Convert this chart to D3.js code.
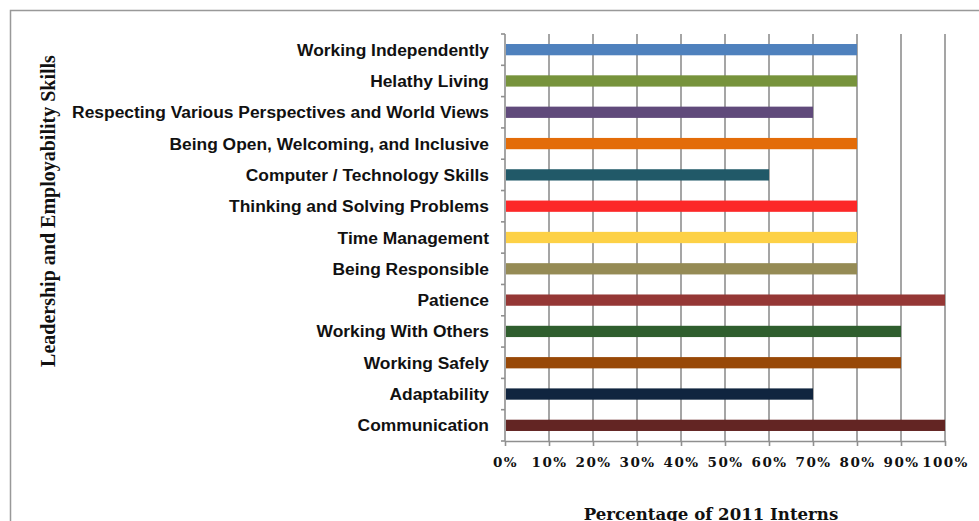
<!DOCTYPE html>
<html>
<head>
<meta charset="utf-8">
<script src="https://cdn.jsdelivr.net/npm/d3@7"></script>
<style>
  html, body { margin: 0; padding: 0; background: #fff; }
  svg { display: block; }
</style>
</head>
<body>
<svg id="chart" width="979" height="521"></svg>
<script>
// Skills, top to bottom
const skills = [
  "Working Independently",
  "Helathy Living",
  "Respecting Various Perspectives and World Views",
  "Being Open, Welcoming, and Inclusive",
  "Computer / Technology Skills",
  "Thinking and Solving Problems",
  "Time Management",
  "Being Responsible",
  "Patience",
  "Working With Others",
  "Working Safely",
  "Adaptability",
  "Communication"
];

// Share of 2011 interns reporting growth in each skill (%)
const percents = [80, 80, 70, 80, 60, 80, 80, 80, 100, 90, 90, 70, 100];

const barColors = [
  "#4f81bd", "#77933c", "#604a7b", "#e36c09", "#215968",
  "#fc2828", "#fdd146", "#958b55", "#953735", "#2f5e2e",
  "#984807", "#10253f", "#632523"
];

const xTicks = [0, 10, 20, 30, 40, 50, 60, 70, 80, 90, 100];

const xTitle = "Percentage of 2011 Interns";
const yTitle = "Leadership and Employability Skills";

const svg = d3.select("#chart");

const plot = { left: 505, right: 945, top: 34, bottom: 441 };

// outer frame (runs past the right and bottom edges)
svg.append("rect")
  .attr("x", 10.5).attr("y", 10.5)
  .attr("width", 1100).attr("height", 600)
  .attr("fill", "none")
  .attr("stroke", "#999").attr("stroke-width", 1.5);

const x = d3.scaleLinear().domain([0, 100]).range([plot.left, plot.right]);
const y = d3.scaleBand().domain(skills).range([plot.top, plot.bottom]).paddingInner(0.64).paddingOuter(0.32);

const band = d3.scaleBand().domain(skills).range([plot.top, plot.bottom]);

// vertical gridlines
svg.append("g")
  .selectAll("line")
  .data(xTicks.filter(d => d > 0))
  .join("line")
  .attr("x1", d => x(d)).attr("x2", d => x(d))
  .attr("y1", plot.top).attr("y2", plot.bottom)
  .attr("stroke", "#8f8f8f").attr("stroke-width", 1.6);

// bars
svg.append("g")
  .selectAll("rect")
  .data(skills)
  .join("rect")
  .attr("x", x(0) + 1)
  .attr("y", d => y(d))
  .attr("width", (d, i) => x(percents[i]) - x(0) - 1)
  .attr("height", y.bandwidth())
  .attr("fill", (d, i) => barColors[i]);

// bottom axis
const xAxis = svg.append("g")
  .attr("transform", `translate(0,${plot.bottom})`)
  .call(d3.axisBottom(x).tickValues(xTicks).tickSize(5).tickSizeOuter(0).tickFormat(d => d + "%"));
xAxis.select(".domain").attr("stroke", "#8f8f8f").attr("stroke-width", 1.6);
xAxis.selectAll(".tick line").attr("stroke", "#8f8f8f").attr("stroke-width", 1.6);
xAxis.selectAll(".tick text")
  .attr("y", 26)
  .attr("dy", 0)
  .attr("fill", "#111")
  .style("font-family", "'DejaVu Serif', serif")
  .style("font-weight", "bold")
  .style("font-size", "13.5px")
  .style("letter-spacing", "1.4px");

// left axis: line plus ticks at band boundaries
const leftAxis = svg.append("g");
leftAxis.append("line")
  .attr("x1", plot.left).attr("x2", plot.left)
  .attr("y1", plot.top).attr("y2", plot.bottom)
  .attr("stroke", "#8f8f8f").attr("stroke-width", 1.6);
leftAxis.selectAll("line.tick")
  .data(skills.concat([null]))
  .join("line")
  .attr("class", "tick")
  .attr("x1", plot.left - 4).attr("x2", plot.left)
  .attr("y1", (d, i) => plot.top + i * band.step())
  .attr("y2", (d, i) => plot.top + i * band.step())
  .attr("stroke", "#8f8f8f").attr("stroke-width", 1.6);

// category labels
svg.append("g")
  .selectAll("text")
  .data(skills)
  .join("text")
  .attr("x", 489)
  .attr("y", d => band(d) + band.bandwidth() / 2 + 6)
  .attr("text-anchor", "end")
  .attr("fill", "#111")
  .style("font-family", "'Liberation Sans', Arial, sans-serif")
  .style("font-weight", "bold")
  .style("font-size", "17.4px")
  .text(d => d);

// axis titles
svg.append("text")
  .attr("x", 711).attr("y", 520)
  .attr("text-anchor", "middle")
  .attr("fill", "#111")
  .style("font-family", "'DejaVu Serif', serif")
  .style("font-weight", "bold")
  .style("font-size", "16.6px")
  .text(xTitle);

svg.append("text")
  .attr("transform", "translate(55,211) rotate(-90)")
  .attr("text-anchor", "middle")
  .attr("fill", "#111")
  .style("font-family", "'Liberation Serif', serif")
  .style("font-weight", "bold")
  .style("font-size", "20px")
  .text(yTitle);
</script>
</body>
</html>
